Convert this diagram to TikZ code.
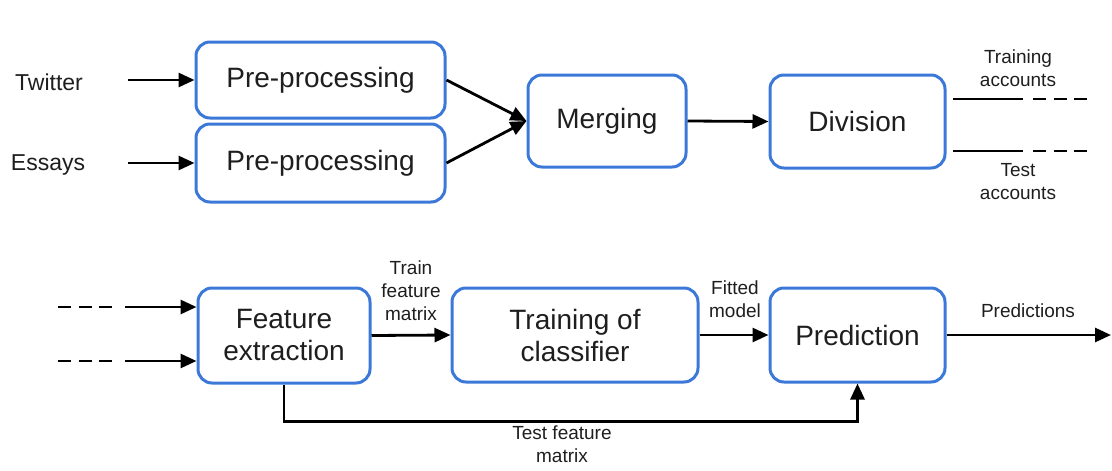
\documentclass[tikz,border=0pt]{standalone}
\usepackage{fontspec}
\setmainfont{Liberation Sans}
\usetikzlibrary{arrows.meta,calc}
\definecolor{boxblue}{RGB}{60,120,216}
\definecolor{ink}{RGB}{30,30,30}
\begin{document}
\begin{tikzpicture}[x=1pt,y=-1pt,
  stepbox/.style={draw=boxblue,line width=3pt,rounded corners=14pt,
    align=center,text=ink,inner sep=0pt,
    font=\fontsize{28}{32}\selectfont},
  srclabel/.style={text=ink,inner sep=0pt,font=\fontsize{23}{26}\selectfont},
  edgelabel/.style={text=ink,inner sep=0pt,align=center,
    font=\fontsize{19}{23}\selectfont},
  arr/.style={draw=black,line width=2.8pt,-{Triangle[length=16pt,width=14pt]}},
  wire/.style={draw=black,line width=2.8pt},
  dashwire/.style={draw=black,line width=2.8pt,dash pattern=on 13pt off 7.5pt}]
\useasboundingbox (0,0) rectangle (1112,471);

% ---- upper row: input, cleaning, merging, splitting ----
\node[stepbox,minimum width=249pt,minimum height=76pt] (pre1) at (320.5,80) {Pre-processing};
\node[stepbox,minimum width=249pt,minimum height=78pt] (pre2) at (320.5,163) {Pre-processing};
\node[stepbox,minimum width=158pt,minimum height=92pt] (merge) at (607,121) {Merging};
\node[stepbox,minimum width=175pt,minimum height=93pt] (div) at (857.5,121.5) {Division};

\node[srclabel] (tw) at (49,82) {Twitter};
\node[srclabel] (es) at (48,165) {Essays};
\coordinate (twin) at (128,80);
\coordinate (esin) at (128,163);
\draw[arr] (twin) -- (pre1.west);
\draw[arr] (esin) -- (pre2.west);
\draw[arr] (pre1.east) -- (merge.west);
\draw[arr] (pre2.east) -- (merge.west);
\draw[arr] (merge.east) -- (div.west);

% outgoing account splits
\coordinate (trA) at (953,99);
\coordinate (trB) at (1023,99);
\coordinate (trC) at (1033,99);
\coordinate (trD) at (1087,99);
\coordinate (teA) at (953,151);
\coordinate (teB) at (1023,151);
\coordinate (teC) at (1033,151);
\coordinate (teD) at (1087,151);
\draw[wire] (trA) -- (trB);
\draw[dashwire] (trC) -- (trD);
\draw[wire] (teA) -- (teB);
\draw[dashwire] (teC) -- (teD);
\node[edgelabel] (trl) at (1018,68.5) {Training\\accounts};
\node[edgelabel] (tel) at (1018,181.5) {Test\\accounts};

% ---- lower row: features, training, prediction ----
\node[stepbox,minimum width=172pt,minimum height=95pt] (feat) at (284,335.5) {Feature\\extraction};
\node[stepbox,minimum width=246pt,minimum height=94pt] (train) at (575,335) {Training of\\classifier};
\node[stepbox,minimum width=175pt,minimum height=94pt] (pred) at (857.5,335) {Prediction};

% incoming account streams
\coordinate (inA) at (58,307);
\coordinate (inB) at (112,307);
\coordinate (inC) at (125,307);
\coordinate (inD) at (58,361);
\coordinate (inE) at (112,361);
\coordinate (inF) at (125,361);
\draw[dashwire] (inA) -- (inB);
\draw[dashwire] (inD) -- (inE);
\draw[arr] (inC) -- (inC -| feat.west);
\draw[arr] (inF) -- (inF -| feat.west);

\draw[arr] (feat.east) -- (train.west);
\draw[arr] (train.east) -- (pred.west);
\coordinate (out) at (1111,335);
\draw[arr] (pred.east) -- (out);

\node[edgelabel] (tfm) at (411,291) {Train\\feature\\matrix};
\node[edgelabel] (fm) at (735,299.5) {Fitted\\model};
\node[edgelabel] (pl) at (1028,311) {Predictions};

\draw[arr] (feat.south) -- ++(0,37) -| (pred.south);
\node[edgelabel] (tst) at (562,444.5) {Test feature\\matrix};
\end{tikzpicture}
\end{document}
